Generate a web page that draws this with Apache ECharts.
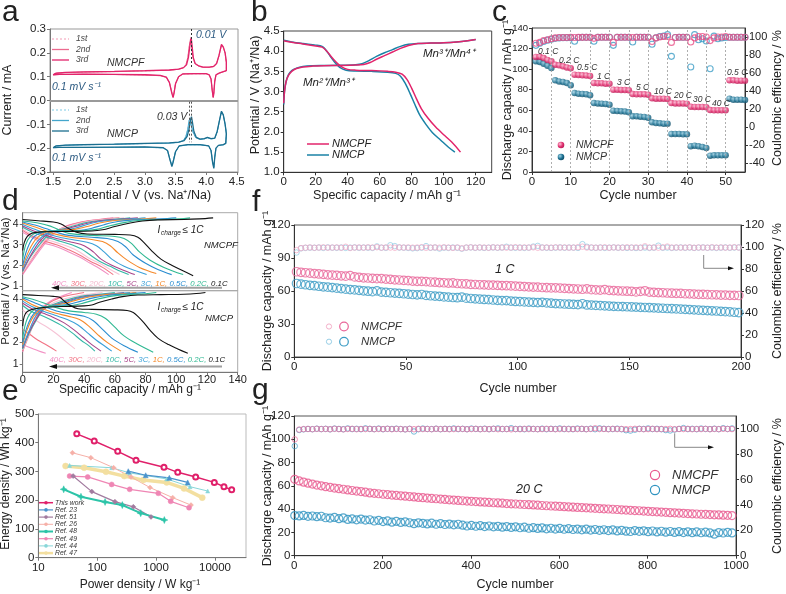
<!DOCTYPE html>
<html><head><meta charset="utf-8">
<script src="https://cdn.jsdelivr.net/npm/echarts@6/dist/echarts.min.js"></script>
<style>html,body{margin:0;padding:0;background:#fff}#c{width:786px;height:594px}</style>
</head><body><div id="c"></div>
<script>
// ---------------- DATA ----------------
// (a) CV curves [potential V, current mA]
const cvPF = [[1.5,0.108],[1.55,0.115],[1.7,0.118],[2.0,0.12],[2.5,0.122],[3.0,0.125],[3.4,0.128],[3.55,0.132],[3.63,0.138],[3.68,0.15],[3.71,0.18],[3.735,0.23],[3.755,0.265],[3.77,0.23],[3.79,0.18],[3.82,0.155],[3.88,0.145],[3.95,0.14],[4.05,0.14],[4.12,0.143],[4.17,0.155],[4.21,0.19],[4.25,0.235],[4.28,0.225],[4.31,0.2],[4.33,0.16],[4.33,0.125],[4.3,0.118],[4.22,0.116],[4.16,0.108],[4.14,0.08],[4.125,0.03],[4.115,0.012],[4.1,0.04],[4.08,0.09],[4.05,0.108],[4.0,0.113],[3.8,0.113],[3.62,0.112],[3.55,0.1],[3.5,0.07],[3.475,0.03],[3.46,0.012],[3.44,0.03],[3.4,0.075],[3.35,0.098],[3.25,0.105],[3.0,0.108],[2.5,0.11],[2.0,0.111],[1.6,0.11],[1.5,0.108]];
const cvPF1 = [[1.5,0.108],[1.55,0.114],[1.7,0.117],[2.0,0.119],[2.5,0.121],[3.0,0.124],[3.4,0.127],[3.55,0.131],[3.63,0.137],[3.67,0.15],[3.70,0.18],[3.725,0.23],[3.745,0.258],[3.76,0.23],[3.785,0.18],[3.82,0.154],[3.88,0.144],[3.95,0.139],[4.05,0.139],[4.12,0.142],[4.17,0.154],[4.21,0.188],[4.25,0.232],[4.28,0.222],[4.31,0.198],[4.33,0.16],[4.33,0.125],[4.3,0.117],[4.22,0.115],[4.16,0.107],[4.14,0.08],[4.125,0.032],[4.115,0.015],[4.1,0.042],[4.08,0.09],[4.05,0.107],[4.0,0.112],[3.8,0.112],[3.62,0.111],[3.55,0.1],[3.5,0.072],[3.475,0.033],[3.46,0.015],[3.44,0.033],[3.4,0.076],[3.35,0.097],[3.25,0.104],[3.0,0.107],[2.5,0.109],[2.0,0.11],[1.6,0.109],[1.5,0.108]];
const cvP = [[1.5,-0.198],[1.55,-0.19],[1.7,-0.187],[2.0,-0.185],[2.5,-0.183],[3.0,-0.18],[3.4,-0.178],[3.55,-0.175],[3.64,-0.168],[3.69,-0.15],[3.72,-0.12],[3.745,-0.08],[3.76,-0.068],[3.775,-0.09],[3.8,-0.13],[3.84,-0.155],[3.9,-0.162],[3.97,-0.16],[4.02,-0.155],[4.08,-0.16],[4.14,-0.158],[4.18,-0.13],[4.22,-0.08],[4.25,-0.045],[4.28,-0.06],[4.31,-0.1],[4.33,-0.14],[4.32,-0.18],[4.28,-0.185],[4.2,-0.188],[4.16,-0.2],[4.14,-0.24],[4.125,-0.285],[4.105,-0.26],[4.08,-0.21],[4.04,-0.19],[3.9,-0.185],[3.7,-0.185],[3.56,-0.19],[3.5,-0.215],[3.46,-0.26],[3.44,-0.277],[3.41,-0.25],[3.37,-0.21],[3.3,-0.198],[3.0,-0.195],[2.5,-0.196],[2.0,-0.197],[1.6,-0.197],[1.5,-0.198]];
const cvP1 = [[1.5,-0.198],[1.55,-0.191],[1.7,-0.188],[2.0,-0.186],[2.5,-0.184],[3.0,-0.181],[3.4,-0.179],[3.55,-0.176],[3.63,-0.168],[3.67,-0.15],[3.70,-0.12],[3.72,-0.085],[3.735,-0.075],[3.75,-0.095],[3.78,-0.13],[3.83,-0.156],[3.9,-0.163],[3.97,-0.161],[4.02,-0.156],[4.08,-0.161],[4.14,-0.159],[4.18,-0.131],[4.22,-0.082],[4.25,-0.048],[4.28,-0.062],[4.31,-0.1],[4.33,-0.14],[4.32,-0.18],[4.28,-0.186],[4.2,-0.189],[4.16,-0.2],[4.14,-0.238],[4.125,-0.28],[4.105,-0.258],[4.08,-0.21],[4.04,-0.19],[3.9,-0.186],[3.7,-0.186],[3.56,-0.191],[3.5,-0.214],[3.46,-0.256],[3.44,-0.272],[3.41,-0.248],[3.37,-0.21],[3.3,-0.199],[3.0,-0.196],[2.5,-0.197],[2.0,-0.197],[1.6,-0.197],[1.5,-0.198]];
// (b) charge/discharge [capacity, V]
const bPFchg = [[0,2.71],[0.5,3.0],[1.5,3.25],[3,3.4],[5,3.5],[8,3.57],[12,3.61],[18,3.63],[25,3.64],[35,3.645],[45,3.655],[50,3.67],[54,3.72],[58,3.8],[63,3.89],[68,3.98],[73,4.07],[78,4.14],[84,4.19],[92,4.2],[100,4.21],[108,4.23],[115,4.26],[120,4.29]];
const bPchg = [[0,2.68],[0.5,3.0],[1.5,3.25],[3,3.42],[5,3.52],[8,3.58],[12,3.62],[18,3.64],[25,3.645],[35,3.65],[45,3.665],[49,3.69],[53,3.76],[58,3.87],[63,3.96],[68,4.04],[73,4.12],[78,4.17],[84,4.19],[92,4.2],[100,4.21],[108,4.23],[115,4.26],[120,4.29]];
const bPFdis = [[0,4.26],[5,4.22],[12,4.18],[20,4.13],[24,4.1],[27,4.0],[30,3.85],[33,3.72],[36,3.62],[40,3.55],[45,3.53],[55,3.52],[65,3.5],[70,3.48],[74,3.43],[77,3.3],[80,3.08],[83,2.82],[86,2.58],[90,2.35],[95,2.12],[100,1.93],[105,1.75],[110.5,1.5]];
const bPdis = [[0,4.27],[5,4.23],[12,4.19],[20,4.15],[24,4.12],[26,4.05],[29,3.88],[32,3.72],[35,3.6],[39,3.53],[45,3.51],[55,3.5],[65,3.48],[70,3.45],[73,3.38],[76,3.2],[79,2.95],[82,2.68],[85,2.42],[89,2.18],[93,1.98],[98,1.8],[103,1.62],[107,1.5]];
// (c) rate capability, cycles 1..55
const cPFcap = [111.8,112,110.8,109,107.6,104.3,103.7,102.7,101.7,100.8,94.6,94.3,94,93.7,93.3,86.5,86.2,86.2,85.9,85.9,80,80,79.7,79.7,79.4,75.8,75.5,75.5,75.5,75.2,71.6,71.3,71.3,71.3,71,67,66.7,66.7,66.7,66.4,63.5,63.2,63.2,63.2,62.9,60.3,60,60,60,60,89.1,89.1,88.8,88.8,88.8];
const cPcap = [107.6,107,105.3,103.4,101,89.1,88.1,87.5,86.5,84.3,76.8,76.1,75.8,75.5,74.5,67,66.7,66.4,66.1,65.5,59.6,59.3,59,58.7,58,54.1,54.1,53.8,53.5,52.8,48.3,47.6,47.3,47,47,36.9,36.9,36.9,36.6,36.6,25,25.6,25,24.3,23.3,15.9,16.2,16.2,16.2,16.2,71.3,70.3,70.3,70.3,70];
const cPFce = [93,94,96,97,98,99,99.5,99.5,99.5,99.6,99.5,99.6,99.6,99.6,99.6,98.5,99.6,99.7,99.7,99.7,94,99.6,99.7,99.7,99.7,99.5,99.7,99.7,99.7,99.7,95,99,100,100.5,100.5,94,99.5,99.7,99.7,99.7,94.4,99,100.5,100.5,100,96,99,100,100,100.5,99.7,99.7,99.7,99.7,99.7];
const cPce = [90.7,93,95,96.5,97.5,98.5,99,99.3,99.3,99.3,95.2,99.5,99.6,99.6,99.6,95.2,99.6,99.7,99.7,99.7,90.7,99.7,99.7,99.7,99.7,94.4,99.7,99.7,99.7,99.7,92,99,100.5,101,102.6,78.5,99.5,99.7,99.7,99.7,66.7,102.6,97,98,95.5,64.8,101,98,99,99.5,99.7,99.7,99.7,99.7,99.7];
const cRateLabels = ['0.1 C','0.2 C','0.5 C','1 C','3 C','5 C','10 C','20 C','30 C','40 C','0.5 C'];
const cRateSteps = [5,10,15,20,25,30,35,40,45,50];
// (d) rate curves: order 0.1C,0.2C,0.5C,1C,3C,5C,10C,20C,30C,40C
const dRates = ['0.1C','0.2C','0.5C','1C','3C','5C','10C','20C','30C','40C'];
const dPFdis = [
 [[0,4.22],[10,4.16],[20,4.1],[25,4.0],[30,3.78],[35,3.6],[42,3.52],[60,3.5],[70,3.47],[75,3.36],[79,3.1],[84,2.7],[90,2.3],[97,2.0],[104,1.75],[111,1.5]],
 [[0,4.15],[10,4.05],[18,3.9],[24,3.7],[30,3.55],[45,3.45],[60,3.4],[66,3.3],[71,3.05],[76,2.65],[83,2.25],[92,1.9],[104.5,1.55]],
 [[0,4.1],[8,3.95],[15,3.78],[22,3.6],[30,3.45],[45,3.36],[55,3.3],[62,3.15],[67,2.9],[72,2.5],[80,2.1],[88,1.8],[97,1.55]],
 [[0,4.05],[7,3.88],[14,3.7],[22,3.5],[32,3.35],[45,3.25],[52,3.15],[57,2.95],[62,2.6],[68,2.25],[76,1.9],[87,1.6]],
 [[0,3.98],[6,3.8],[13,3.6],[22,3.4],[32,3.25],[42,3.12],[48,2.95],[53,2.65],[58,2.3],[66,1.95],[75,1.7],[80.7,1.55]],
 [[0,3.9],[6,3.7],[13,3.5],[22,3.3],[32,3.12],[40,2.95],[46,2.65],[51,2.3],[58,2.0],[66,1.75],[73,1.55]],
 [[0,3.85],[6,3.62],[13,3.42],[22,3.22],[32,3.0],[38,2.8],[44,2.5],[50,2.2],[57,1.95],[64,1.7],[69,1.55]],
 [[0,3.75],[6,3.5],[13,3.3],[22,3.1],[30,2.9],[37,2.65],[43,2.35],[50,2.1],[57,1.8],[63,1.55]],
 [[0,3.7],[6,3.42],[13,3.2],[22,3.0],[30,2.75],[37,2.5],[44,2.2],[52,1.9],[59,1.55]],
 [[0,3.6],[6,3.35],[13,3.1],[22,2.9],[30,2.65],[37,2.4],[44,2.1],[50,1.85],[56,1.55]]];
const dPFchg = [
 [[0,2.72],[1,3.1],[3,3.4],[6,3.55],[12,3.62],[25,3.64],[45,3.66],[52,3.72],[60,3.88],[70,4.05],[78,4.15],[88,4.2],[105,4.22],[115,4.25],[124,4.3]],
 [[0,2.3],[2,3.0],[5,3.4],[10,3.6],[20,3.66],[40,3.68],[48,3.74],[56,3.9],[66,4.07],[75,4.17],[90,4.22],[102,4.25],[109,4.3]],
 [[0,2.0],[3,2.8],[7,3.35],[13,3.6],[22,3.68],[38,3.7],[45,3.8],[53,3.97],[62,4.12],[72,4.2],[90,4.25],[100,4.3]],
 [[0,1.9],[4,2.7],[9,3.3],[15,3.6],[24,3.7],[34,3.74],[42,3.88],[50,4.05],[60,4.17],[75,4.23],[87,4.3]],
 [[0,1.8],[4,2.5],[10,3.2],[17,3.6],[26,3.72],[34,3.8],[42,3.98],[50,4.12],[60,4.2],[72,4.25],[80,4.3]],
 [[0,1.75],[5,2.45],[11,3.15],[18,3.6],[27,3.75],[35,3.9],[43,4.05],[52,4.17],[65,4.24],[75,4.3]],
 [[0,1.7],[5,2.4],[12,3.1],[19,3.6],[28,3.8],[36,3.97],[45,4.12],[55,4.2],[63,4.25],[70,4.3]],
 [[0,1.65],[6,2.35],[13,3.1],[20,3.6],[28,3.85],[36,4.03],[45,4.16],[55,4.23],[66,4.3]],
 [[0,1.6],[6,2.3],[14,3.1],[21,3.62],[29,3.9],[37,4.07],[46,4.18],[55,4.25],[63,4.3]],
 [[0,1.55],[7,2.3],[15,3.1],[22,3.65],[30,3.95],[38,4.1],[47,4.2],[59,4.3]]];
const dPdis = [
 [[0,4.2],[10,4.16],[20,4.12],[24,4.08],[27,3.9],[31,3.7],[36,3.55],[45,3.52],[60,3.5],[68,3.47],[72,3.38],[75,3.2],[79,2.9],[83,2.55],[88,2.2],[95,1.9],[101,1.7],[107.5,1.5]],
 [[0,4.1],[8,3.95],[15,3.78],[22,3.6],[30,3.45],[40,3.38],[48,3.3],[54,3.1],[60,2.7],[66,2.3],[74,1.95],[85,1.55]],
 [[0,4.05],[7,3.85],[14,3.65],[22,3.45],[32,3.3],[40,3.2],[46,3.0],[52,2.6],[58,2.2],[66,1.85],[75,1.55]],
 [[0,4.0],[6,3.75],[13,3.55],[21,3.35],[30,3.2],[37,3.05],[43,2.75],[49,2.35],[55,2.0],[64,1.6]],
 [[0,3.9],[6,3.65],[13,3.45],[21,3.25],[29,3.05],[36,2.8],[42,2.45],[48,2.1],[54,1.8],[58,1.6]],
 [[0,3.8],[6,3.55],[13,3.35],[20,3.15],[27,2.9],[33,2.6],[39,2.25],[45,1.9],[51,1.6]],
 [[0,3.7],[5,3.45],[12,3.25],[19,3.02],[26,2.75],[32,2.45],[38,2.1],[43,1.85],[47,1.6]],
 [[0,3.5],[5,3.2],[10,2.95],[16,2.7],[22,2.4],[28,2.05],[34,1.7]],
 [[0,2.6],[5,2.35],[10,2.1],[15,1.9],[22,1.6]],
 [[0,1.9],[5,1.75],[10,1.62],[15,1.5]]];
const dPchg = [
 [[0,2.75],[1,3.2],[3,3.42],[8,3.55],[15,3.62],[25,3.65],[40,3.68],[45,3.72],[50,3.85],[58,4.0],[66,4.12],[75,4.18],[90,4.2],[105,4.22],[113,4.25],[119,4.3]],
 [[0,2.2],[2,2.9],[5,3.35],[10,3.58],[20,3.66],[32,3.7],[40,3.82],[48,3.98],[57,4.12],[67,4.2],[80,4.24],[87,4.3]],
 [[0,2.0],[3,2.75],[7,3.3],[12,3.58],[20,3.68],[30,3.75],[38,3.9],[46,4.05],[55,4.16],[67,4.23],[80,4.3]],
 [[0,1.9],[3,2.6],[7,3.2],[12,3.55],[20,3.7],[28,3.8],[36,3.97],[44,4.1],[54,4.2],[66,4.25],[74,4.3]],
 [[0,1.8],[4,2.5],[8,3.15],[13,3.55],[21,3.72],[29,3.87],[37,4.03],[46,4.15],[58,4.23],[70,4.3]],
 [[0,1.75],[4,2.45],[9,3.1],[14,3.55],[22,3.75],[30,3.93],[38,4.08],[48,4.18],[58,4.24],[66,4.3]],
 [[0,1.7],[4,2.4],[9,3.05],[14,3.55],[22,3.8],[30,3.98],[38,4.12],[48,4.2],[60,4.3]],
 [[0,1.65],[4,2.35],[9,3.05],[14,3.55],[20,3.82],[28,4.02],[36,4.15],[44,4.23],[52,4.3]],
 [[0,1.6],[4,2.3],[8,3.0],[12,3.5],[18,3.85],[24,4.05],[31,4.18],[40,4.3]],
 [[0,1.55],[3,2.3],[7,3.0],[11,3.5],[16,3.8],[22,4.05],[28,4.2],[32,4.3]]];
// (e) Ragone [power W/kg, energy Wh/kg]
const eNames = ['This work','Ref. 23','Ref. 51','Ref. 26','Ref. 48','Ref. 49','Ref. 44','Ref. 47'];
const eThis = [[45,431],[89,406],[223,370],[456,339],[1360,315],[2330,297],[4700,281],[9730,262],[14200,247],[19200,236]];
const eRef23 = [[337,301],[666,287],[1675,278],[3437,262]];
const eRef51 = [[39,284],[81,230],[200,195],[410,177],[819,142]];
const eRef26 = [[38,365],[78,348],[190,313],[375,281],[788,244],[1914,209],[3910,183]];
const eRef48 = [[27,238],[53,212],[136,194],[267,183],[548,155],[1380,131]];
const eRef49 = [[34,284],[69,281],[176,255],[356,238],[1090,224],[1767,196],[3620,174]];
const eRef44 = [[34,321],[176,313],[356,295],[1514,274],[3770,247],[7516,232]];
const eRef47 = [[29,319],[60,313],[141,299],[288,284],[607,270],[1514,262],[2978,241],[6080,209]];
// (f) 1 C cycling, every 2nd cycle starting at 1
const fPFcap = [77.5,77,76.6,76.2,75.8,75.5,75.1,74.7,74.4,74.2,73.8,73.5,74.0,72.8,72.4,72.0,71.8,71.5,71.2,71.3,70.8,70.6,70.2,70.0,69.6,69.4,69.0,68.8,68.7,68.5,68.2,68.0,67.7,67.5,67.2,67.3,66.8,66.6,66.4,66.0,65.9,65.7,65.6,65.4,65.3,65.2,64.9,64.8,64.6,64.4,64.2,64.0,63.8,63.6,63.5,63.2,63.0,62.8,62.9,62.6,62.4,62.2,62.0,61.8,61.6,61.9,61.2,61.0,60.8,61.2,60.6,60.4,60.2,60.0,59.8,59.6,59.2,59.6,60.2,59.0,58.8,58.6,58.4,58.2,58.0,57.9,57.8,57.5,57.4,57.2,57.0,56.9,56.7,56.6,56.5,56.3,56.2,56.1,56.0,55.9];
const fPcap = [66.8,66.2,65.7,65.2,64.8,64.3,63.8,63.5,63.1,62.6,62.2,61.7,61.3,61.0,60.6,60.2,59.8,59.4,60.1,59.0,58.7,58.4,58.1,57.8,57.5,57.1,56.8,56.5,56.8,56.0,55.7,55.4,55.2,54.6,54.4,54.1,53.9,54.4,53.5,53.2,52.9,52.6,52.3,52.1,51.8,51.5,51.2,51.3,50.8,50.5,50.3,50.1,49.9,49.7,49.5,49.7,49.2,48.9,48.6,48.4,48.2,48.0,47.8,47.7,48.4,47.3,47.1,46.9,46.7,46.5,46.3,46.1,45.9,45.8,45.7,45.5,45.4,45.2,45.0,44.8,44.7,44.5,44.3,44.1,43.9,43.7,43.5,43.3,43.1,42.9,42.6,42.4,42.2,42.0,41.8,41.5,41.2,41.0,40.7,40.4];
const fPFce = [97.2,99.0,99.4,99.6,99.3,99.5,99.7,99.4,99.5,99.6,99.3,100.2,99.1,99.5,99.6,99.4,99.7,99.5,99.8,99.4,99.6,99.5,99.3,99.7,99.5,99.6,99.4,99.5,99.8,99.3,99.5,99.6,99.4,99.7,99.5,99.2,99.6,98.8,99.5,99.7,99.4,99.6,99.5,99.3,99.7,99.5,99.6,99.4,99.5,99.8,99.4,99.6,99.5,99.7,99.3,99.5,99.6,99.4,99.7,99.5,99.6,99.4,99.5,99.8,100.3,99.5,99.6,99.4,99.5,99.7,99.3,99.6,99.5,99.4,99.7,99.5,99.6,99.4,100.6,99.5,99.6,99.4,99.7,100.4,99.5,99.6,99.4,99.5,99.7,99.3,99.6,99.5,99.4,99.7,99.5,99.6,99.4,99.5,99.8,99.5];
const fPce = [95.0,98.8,99.2,99.4,99.3,99.5,99.2,99.6,99.4,99.3,99.5,99.2,99.4,99.6,99.3,99.5,99.4,99.2,100.5,99.4,99.3,101.6,100.8,99.5,99.4,99.2,98.8,99.0,99.4,100.8,99.3,99.5,98.6,99.4,99.2,99.5,99.3,98.5,99.4,99.6,99.3,99.5,99.2,99.4,99.6,99.3,99.5,100.2,99.4,99.3,99.5,99.2,99.4,100.4,101.0,99.5,99.3,99.2,99.4,99.6,99.3,99.5,99.4,99.2,102.6,100.2,99.4,99.3,99.5,99.2,99.4,99.6,99.3,99.5,99.2,99.4,99.1,99.3,99.5,99.2,99.4,101.2,99.3,99.5,99.2,99.4,99.6,99.3,99.5,99.2,99.4,99.6,99.3,99.5,99.2,99.4,99.6,99.3,99.5,99.6];
// (g) 20 C cycling, every 10th cycle starting at 1
const gPFcap = [65.6,64.2,63.2,62.3,61.5,60.7,60.0,59.3,58.7,58.1,57.6,57.1,56.5,56.0,55.5,55.1,54.6,53.9,53.6,53.2,52.8,52.5,52.1,51.8,51.4,51.1,50.8,50.5,50.1,49.8,49.5,49.2,48.9,48.6,48.3,48.0,47.8,47.5,47.2,46.9,46.7,46.5,46.2,46.0,45.8,45.5,45.3,45.1,44.8,44.6,44.4,44.2,44.0,43.8,43.6,43.4,43.1,42.9,42.7,42.5,42.3,42.1,41.9,41.7,41.5,41.3,41.1,40.9,40.7,40.5,40.3,40.1,39.9,39.7,39.4,39.2,39.0,38.8,38.6,38.3,38.1,37.9,37.7,37.5,37.3,37.0,36.8,36.6,36.4,36.2,36.0,35.8,35.6,35.5,35.3,35.1,35.0,34.8,34.7,34.5];
const gPcap = [34.5,34.2,34.6,33.8,34.1,33.5,33.9,32.6,32.3,32.9,31.8,32.5,31.2,31.6,30.8,31.5,30.6,30.9,29.8,30.4,29.3,29.9,28.8,29.5,28.6,29.1,28.3,27.5,28.2,27.8,27.3,27.9,27.0,27.6,26.8,27.2,26.5,27.0,26.2,25.5,26.0,25.3,25.8,25.0,25.5,24.8,25.2,24.5,25.0,24.3,24.8,24.0,24.5,23.6,24.1,23.4,23.9,23.1,23.6,22.9,23.4,22.7,23.2,22.5,22.9,22.2,22.8,22.0,22.5,21.8,22.3,21.6,22.1,21.3,21.8,21.1,20.8,21.6,20.9,21.4,20.6,21.2,20.4,21.0,20.2,20.8,20.0,20.6,19.9,20.5,19.8,20.4,19.7,20.2,19.6,18.5,19.9,19.5,20.1,19.6];
const gPFce = [91.6,99.3,99.7,99.8,99.6,99.9,99.7,99.8,99.6,99.9,99.7,99.5,99.8,99.9,99.6,99.8,99.7,99.9,99.6,99.8,99.7,99.9,99.6,99.8,99.7,99.5,99.8,99.6,99.9,99.7,99.8,99.6,99.9,99.7,99.8,99.6,99.7,99.9,99.8,99.6,99.7,99.9,99.6,99.8,99.7,99.9,99.6,99.8,99.7,99.5,99.8,99.6,99.9,99.7,99.8,99.6,99.7,99.9,99.8,99.6,99.7,99.9,99.6,99.8,99.7,99.9,99.6,99.8,100.3,99.7,99.8,99.6,99.9,99.7,99.8,99.6,99.7,99.9,99.8,99.6,99.7,99.9,99.6,99.8,99.7,99.9,99.6,99.8,99.7,99.9,99.6,99.8,99.7,99.9,99.6,99.8,99.7,99.9,99.8,99.7];
const gPce = [86.3,99.0,99.5,99.8,99.6,100.0,99.7,99.9,99.5,100.1,99.8,99.6,100.2,99.7,99.9,99.6,100.3,99.8,99.7,100.1,99.6,99.9,99.8,100.0,99.7,99.5,99.9,97.8,99.6,100.1,99.8,99.7,100.0,99.6,99.9,99.8,100.2,99.7,99.9,99.6,100.1,99.8,99.7,100.0,99.6,99.9,100.2,99.7,99.8,100.4,99.7,99.9,99.6,100.1,99.8,99.7,100.0,99.6,99.9,99.8,100.2,99.7,99.9,99.6,100.1,99.8,99.7,100.0,99.6,100.3,99.9,99.8,99.7,100.0,99.6,98.8,98.5,99.2,99.9,99.8,100.2,99.7,99.9,99.6,98.9,98.6,99.3,99.8,100.5,99.7,99.9,99.6,100.1,99.8,99.7,100.0,99.6,100.4,99.8,100.2];
// tick values
const aXTicks=[1.5,2,2.5,3,3.5,4,4.5], aYTicks=[-0.3,-0.2,-0.1,0,0.1,0.2,0.3];
const bXTicks=[0,20,40,60,80,100,120], bYTicks=[1,1.5,2,2.5,3,3.5,4,4.5];
const cXTicks=[0,10,20,30,40,50], cYTicks=[0,20,40,60,80,100,120,140], cY2Ticks=[-40,-20,0,20,40,60,80,100];
const dXTicks=[0,20,40,60,80,100,120,140], dYTicks=[1,2,3,4];
const eXTicks=[10,100,1000,10000], eYTicks=[0,100,200,300,400,500];
const fXTicks=[0,50,100,150,200], fYTicks=[0,30,60,90,120], fY2Ticks=[0,20,40,60,80,100,120];
const gXTicks=[0,200,400,600,800,1000], gYTicks=[0,20,40,60,80,100,120], gY2Ticks=[0,20,40,60,80,100];

// ---------------- CHART ----------------
const F = "'Liberation Sans', Arial, Helvetica, sans-serif";
const chart = echarts.init(document.getElementById('c'), null, {renderer:'canvas'});
function grid(l,t,w,h,bc){return {left:l,top:t,width:w,height:h,show:true,borderColor:bc||'#444',borderWidth:1,containLabel:false,outerBoundsMode:'none'};}
function ax(gi,o){
  return {gridIndex:gi,type:o.type||'value',min:o.min,max:o.max,position:o.pos,logBase:o.logBase,
    axisLine:{show:true,onZero:false,lineStyle:{color:o.lc||'#333',width:1}},
    axisTick:{show:o.tick!==false,inside:false,length:3,customValues:o.ticks,lineStyle:{color:o.lc||'#333'}},
    axisLabel:{show:o.labels!==false,customValues:o.ticks,fontSize:o.fs||11.5,color:'#222',fontFamily:F,margin:o.margin!=null?o.margin:4,
      formatter:o.fmt||(v=>String(Math.round(v*1000)/1000))},
    splitLine:{show:false},minorTick:{show:false}};
}
const fix1 = v=>v.toFixed(1);
const grids=[grid(50,29,188,143,'#999'),grid(283.7,31,208,141.3),grid(532,28,213,144),grid(22.7,212.7,215,78,'#aaa'),grid(22.7,290.7,215,81.5,'#aaa'),grid(38.3,414,207.7,143.7,'#bbb'),grid(294.3,225,446.7,132,'#555'),grid(294.3,416,441.7,139.7,'#555')];
const xAxes=[
  ax(0,{min:1.45,max:4.52,ticks:aXTicks,fmt:fix1,lc:'#777'}),
  ax(1,{min:0,max:130,ticks:bXTicks}),
  ax(2,{min:0,max:55,ticks:cXTicks}),
  ax(3,{min:0,max:140,ticks:dXTicks,labels:false,tick:false,lc:'#aaa'}),
  ax(4,{min:0,max:140,ticks:dXTicks,lc:'#777',fs:11,margin:2}),
  ax(5,{type:'log',logBase:10,min:10,max:33600,ticks:eXTicks,fmt:v=>String(Math.round(v)),lc:'#777'}),
  ax(6,{min:0,max:200,ticks:fXTicks}),
  ax(7,{min:0,max:1000,ticks:gXTicks})];
const yAxes=[
  ax(0,{min:-0.3,max:0.3,ticks:aYTicks,fmt:fix1,lc:'#777'}),
  ax(1,{min:1,max:4.5,ticks:bYTicks,fmt:fix1}),
  ax(2,{min:0,max:140,ticks:cYTicks,fs:9.5,margin:4}),
  ax(2,{min:-50,max:110,ticks:cY2Ticks,pos:'right',fs:11}),
  ax(3,{min:0.77,max:4.55,ticks:dYTicks,lc:'#777',fs:10.5}),
  ax(4,{min:0.63,max:4.38,ticks:dYTicks,lc:'#777',fs:10.5}),
  ax(5,{min:0,max:500,ticks:eYTicks,lc:'#777'}),
  ax(6,{min:0,max:120,ticks:fYTicks}),
  ax(6,{min:0,max:120,ticks:fY2Ticks,pos:'right'}),
  ax(7,{min:0,max:120,ticks:gYTicks}),
  ax(7,{min:0,max:110,ticks:gY2Ticks,pos:'right'})];

const series=[];
function line(xi,yi,data,color,w,o={}){series.push(Object.assign({type:'line',xAxisIndex:xi,yAxisIndex:yi,data,showSymbol:false,symbol:'none',silent:true,
  lineStyle:{color,width:w,type:o.dash||'solid'},smooth:o.smooth||false,z:o.z||2},o.extra||{}));}
// (a)
line(0,0,cvPF1,'#f6b3c6',1,{dash:[2,2]});
line(0,0,cvPF1,'#ec6a8f',1);
line(0,0,cvPF,'#e2246b',1.3,{extra:{markLine:{silent:true,symbol:['none','none'],label:{show:false},
  data:[[{coord:[1.45,0],lineStyle:{color:'#9a9a9a',width:2,type:'solid'}},{coord:[4.52,0]}],
        [{coord:[3.755,0.3],lineStyle:{color:'#333',width:1,type:[2,2]}},{coord:[3.755,0.135]}],
        [{coord:[3.732,-0.005],lineStyle:{color:'#555',width:1,type:[2,2]}},{coord:[3.732,-0.175]}],
        [{coord:[3.762,-0.005],lineStyle:{color:'#555',width:1,type:[2,2]}},{coord:[3.762,-0.175]}]]}}});
line(0,0,cvP1,'#9bd7ec',1,{dash:[2,2]});
line(0,0,cvP1,'#44a6cc',1);
line(0,0,cvP,'#1b6e8f',1.3);
// (b)
line(1,1,bPchg,'#1a82a6',1.5,{smooth:0.3});
line(1,1,bPdis,'#1a82a6',1.5,{smooth:0.3});
line(1,1,bPFchg,'#e2246b',1.5,{smooth:0.3});
line(1,1,bPFdis,'#e2246b',1.5,{smooth:0.3});
// (c)
const cyc = cPFcap.map((_,i)=>i+1);
series.push({type:'scatter',xAxisIndex:2,yAxisIndex:2,silent:true,symbolSize:6,z:1,data:cRateSteps.map(()=>null),
  markLine:{silent:true,symbol:['none','none'],label:{show:false},lineStyle:{color:'#9a9a9a',width:0.8,type:[2,2]},data:cRateSteps.map(s=>({xAxis:s}))}});
const ballPF={type:'radial',x:0.35,y:0.35,r:0.7,colorStops:[{offset:0,color:'#ffc4da'},{offset:0.6,color:'#e0306f'},{offset:1,color:'#b81a55'}]};
const ballP={type:'radial',x:0.35,y:0.35,r:0.7,colorStops:[{offset:0,color:'#9fd3e6'},{offset:0.6,color:'#1b6f90'},{offset:1,color:'#0f4c66'}]};
series.push({type:'scatter',xAxisIndex:2,yAxisIndex:3,silent:true,symbol:'circle',symbolSize:6,data:cyc.map((c,i)=>[c,cPce[i]]),itemStyle:{color:'transparent',borderColor:'#3b9cc6',borderWidth:1.1}});
series.push({type:'scatter',xAxisIndex:2,yAxisIndex:3,silent:true,symbol:'circle',symbolSize:6,data:cyc.map((c,i)=>[c,cPFce[i]]),itemStyle:{color:'transparent',borderColor:'#ea4f86',borderWidth:1.1}});
series.push({type:'scatter',xAxisIndex:2,yAxisIndex:2,silent:true,symbol:'circle',symbolSize:6.5,data:cyc.map((c,i)=>[c,cPcap[i]]),itemStyle:{color:ballP}});
series.push({type:'scatter',xAxisIndex:2,yAxisIndex:2,silent:true,symbol:'circle',symbolSize:6.5,data:cyc.map((c,i)=>[c,cPFcap[i]]),itemStyle:{color:ballPF}});
// (d)
const dColors=['#111111','#2fb892','#2a8dd0','#f5892a','#3aa0d8','#a8448a','#35b8a6','#f6c4d6','#f27485','#f291c4'];
for(let k=dRates.length-1;k>=0;k--){
  line(3,4,dPFdis[k],dColors[k],1.1,{smooth:0.35});
  line(3,4,dPFchg[k],dColors[k],1.1,{smooth:0.35});
  line(4,5,dPdis[k],dColors[k],1.1,{smooth:0.35});
  line(4,5,dPchg[k],dColors[k],1.1,{smooth:0.35});
}
// (e)
const eData=[eThis,eRef23,eRef51,eRef26,eRef48,eRef49,eRef44,eRef47];
const eColors=['#e0206a','#4a93cc','#a27b9f','#f6b0a8','#2cc4a8','#ef86b4','#88d6d8','#f3dfa0'];
const eSym=['emptyCircle','triangle','diamond','diamond','path://M0,-5L1.5,-1.5L5,0L1.5,1.5L0,5L-1.5,1.5L-5,0L-1.5,-1.5Z','circle','triangle','circle'];
const eSize=[5,5,5,5,7,5,4,6];
const eW=[1.5,1.2,1.2,1,2,1.2,1,3.5];
const eOrder=[7,6,3,5,2,4,1,0];
eOrder.forEach(k=>{series.push({type:'line',name:eNames[k],xAxisIndex:5,yAxisIndex:6,silent:true,data:eData[k],symbol:eSym[k],symbolSize:eSize[k],
  showSymbol:true,lineStyle:{color:eColors[k],width:eW[k]},itemStyle:{color:eColors[k],borderColor:eColors[k],borderWidth:k===0?1.5:0.5},z:3});});
// (f)
const fcyc = fPFcap.map((_,i)=>1+2*i);
function ring(xi,yi,cycles,vals,color,size,bw,z){series.push({type:'scatter',xAxisIndex:xi,yAxisIndex:yi,silent:true,symbol:'circle',symbolSize:size,z:z,
  data:cycles.map((c,i)=>[c,vals[i]]),itemStyle:{color:'transparent',borderColor:color,borderWidth:bw}});}
ring(6,8,fcyc,fPce,'#8cc8e2',5.5,0.9,2);
ring(6,8,fcyc,fPFce,'#f2a7c3',5.5,0.9,2);
ring(6,7,fcyc,fPcap,'#3b9bc4',8.5,1.2,3);
ring(6,7,fcyc,fPFcap,'#e9679a',8.5,1.2,3);
// (g)
const gcyc = gPFcap.map((_,i)=>1+10*i);
ring(7,10,gcyc,gPce,'#49a3cc',5.5,0.9,2);
ring(7,10,gcyc,gPFce,'#ec6f9e',5.5,0.9,2);
ring(7,9,gcyc,gPcap,'#2f93c0',8,1.2,3);
ring(7,9,gcyc,gPFcap,'#e9598f',8,1.2,3);

// ---------------- GRAPHICS (text, legends) ----------------
const G=[];
function T(x,y,text,o={}){G.push({type:'text',x,y,rotation:o.rot||0,z:100,silent:true,style:{text,fill:o.color||'#222',fontSize:o.size||12,fontFamily:F,
  fontStyle:o.italic?'italic':'normal',fontWeight:o.bold?'bold':'normal',align:o.align||'left',verticalAlign:o.va||'middle',rich:o.rich}});}
function L(x1,y1,x2,y2,c,w,dash){G.push({type:'line',z:100,silent:true,shape:{x1,y1,x2,y2},style:{stroke:c,lineWidth:w||1,lineDash:dash||null}});}
function C(cx,cy,r,fill,stroke,w){G.push({type:'circle',z:100,silent:true,shape:{cx,cy,r},style:{fill:fill,stroke:stroke||null,lineWidth:w||1}});}
function P(pts,c){G.push({type:'polygon',z:100,silent:true,shape:{points:pts},style:{fill:c}});}
function PL(pts,c,w){G.push({type:'polyline',z:100,silent:true,shape:{points:pts},style:{stroke:c,lineWidth:w||1,fill:null}});}
const R=Math.PI/2;
// panel letters (middle-anchored; baseline ~ y+10)
T(2,13,'a',{size:30});T(251,13,'b',{size:30});T(492,13,'c',{size:30});
T(2,202,'d',{size:30});T(2,392,'e',{size:30});T(252,203,'f',{size:30});T(252,391,'g',{size:30});
// axis titles
T(8,100,'Current / mA',{rot:R,align:'center',size:12.5});
T(142,196,'Potential / V (vs. Na⁺/Na)',{align:'center',size:12.5});
T(256,95,'Potential / V (Na⁺/Na)',{rot:R,align:'center',size:12.5});
T(387,196,'Specific capacity / mAh g⁻¹',{align:'center',size:12.5});
T(508,100,'Discharge capacity / mAh g⁻¹',{rot:R,align:'center',size:12.5});
T(778,98,'Coulombic efficiency / %',{rot:R,align:'center',size:12.5});
T(638,196,'Cycle number',{align:'center',size:12.5});
T(6,281,'Potential / V (vs. Na⁺/Na)',{rot:R,align:'center',size:11.5});
T(130,390,'Specific capacity / mAh g⁻¹',{align:'center',size:12});
T(6,484,'Energy density / Wh kg⁻¹',{rot:R,align:'center',size:12});
T(140,585,'Power density / W kg⁻¹',{align:'center',size:12});
T(268,291,'Discharge capacity / mAh g⁻¹',{rot:R,align:'center',size:12.5});
T(778,291,'Coulombic efficiency / %',{rot:R,align:'center',size:12.5});
T(518,389,'Cycle number',{align:'center',size:12.5});
T(268,486,'Discharge capacity / mAh g⁻¹',{rot:R,align:'center',size:12.5});
T(778,486,'Coulombic efficiency / %',{rot:R,align:'center',size:12.5});
T(515,585,'Cycle number',{align:'center',size:12.5});
// (a) legends/annotations
const aPFc=['#f6b3c6','#ec6a8f','#e2246b'], aPc=['#9bd7ec','#44a6cc','#1b6e8f'], aLab=['1st','2nd','3rd'];
[39,49.5,60].forEach((y,i)=>{L(52,y,69,y,aPFc[i],1.3,i===0?[2,2]:null);T(76,y,aLab[i],{italic:true,size:8.5,color:'#444'});});
[110,120.5,131].forEach((y,i)=>{L(52,y,69,y,aPc[i],1.3,i===0?[2,2]:null);T(76,y,aLab[i],{italic:true,size:8.5,color:'#444'});});
T(107,63,'NMCPF',{italic:true,size:10.5,color:'#333'});T(107,134,'NMCP',{italic:true,size:10.5,color:'#333'});
T(52,87,'0.1 mV s⁻¹',{italic:true,size:10.5,color:'#2d5b82'});T(52,158,'0.1 mV s⁻¹',{italic:true,size:10.5,color:'#2d5b82'});
T(196,35,'0.01 V',{italic:true,size:10.5,color:'#2d5b82'});T(157,117,'0.03 V',{italic:true,size:10.5,color:'#333'});
// (b)
T(423,54,'Mn³⁺/Mn⁴⁺',{italic:true,size:11.5});T(303,83,'Mn²⁺/Mn³⁺',{italic:true,size:11.5});
L(307,144,329,144,'#e2246b',1.5);T(332,144,'NMCPF',{italic:true,size:11});
L(307,155,329,155,'#1a82a6',1.5);T(332,155,'NMCP',{italic:true,size:11});
// (c)
const cLabPos=[[538,52],[559,61],[577,68],[597,77],[617,83],[636,87.5],[654,92],[674,96],[693,100],[712,104],[727,72.5]];
cRateLabels.forEach((t,i)=>T(cLabPos[i][0],cLabPos[i][1],t,{italic:true,size:8.5,color:'#333'}));
C(561,145,3.3,ballPF);T(576,145,'NMCPF',{italic:true,size:10.5,color:'#333'});
C(561,157,3.3,ballP);T(576,157,'NMCP',{italic:true,size:10.5,color:'#333'});
// (d)
function dLabels(x,y){const rich={};const parts=[];for(let k=dRates.length-1;k>=0;k--){rich['r'+k]={fill:dColors[k]==='#f6c4d6'?'#f3b8cc':dColors[k],fontSize:7.8,fontStyle:'italic',fontFamily:F};parts.push('{r'+k+'|'+dRates[k]+(k>0?', ':'')+'}');}
  T(x,y,parts.join(''),{rich,size:7.8,italic:true});}
dLabels(52,283.5);dLabels(49.5,360.3);
L(58,287.8,222,287.8,'#a0a0a0',2);P([[51,287.8],[59,285.3],[59,290.3]],'#111');
L(56,366.5,222,366.5,'#a0a0a0',2);P([[49,366.5],[57,364],[57,369]],'#111');
function icharge(x,y){T(x,y,'I',{italic:true,size:10});T(x+3.5,y+3,'charge',{italic:true,size:6.5});T(x+25,y,'≤ 1C',{italic:true,size:10});}
icharge(157.5,230);icharge(157.5,307);
T(204,245,'NMCPF',{italic:true,size:9.5,color:'#222'});T(205,318.5,'NMCP',{italic:true,size:9.5,color:'#222'});
// (e) legend
eNames.forEach((n,k)=>{const y=502.7+k*7.2;L(39,y,53,y,eColors[k],Math.min(eW[k],2.5));
  G.push({type:'circle',z:101,silent:true,shape:{cx:46,cy:y,r:1.8},style:{fill:eColors[k]}});
  T(55,y,n,{italic:true,size:6.8,color:'#333'});});
// (f)
T(495,270,'1 C',{italic:true,size:12.5});
C(329,326.5,2.6,'none','#f2a7c3',0.9);C(344,326.5,4.3,'none','#e9679a',1.2);T(361,326.5,'NMCPF',{italic:true,size:11.5,color:'#333'});
C(329,341.7,2.6,'none','#8cc8e2',0.9);C(344,341.7,4.3,'none','#3b9bc4',1.2);T(361,341.7,'NMCP',{italic:true,size:11.5,color:'#333'});
PL([[703.7,255],[703.7,268.3],[729,268.3]],'#888',1);P([[734,268.3],[728,266.3],[728,270.3]],'#111');
// (g)
T(516,490,'20 C',{italic:true,size:12.5});
C(655,475,4.6,'none','#e9598f',1.2);T(672,475,'NMCPF',{italic:true,size:13,color:'#333'});
C(655,490,4.6,'none','#2f93c0',1.2);T(672,490,'NMCP',{italic:true,size:13,color:'#333'});
PL([[674.7,433.3],[674.7,447.3],[709,447.3]],'#888',1);P([[714,447.3],[708,445.3],[708,449.3]],'#111');

chart.setOption({animation:false,backgroundColor:'#fff',textStyle:{fontFamily:F},grid:grids,xAxis:xAxes,yAxis:yAxes,series,graphic:G});
</script></body></html>
